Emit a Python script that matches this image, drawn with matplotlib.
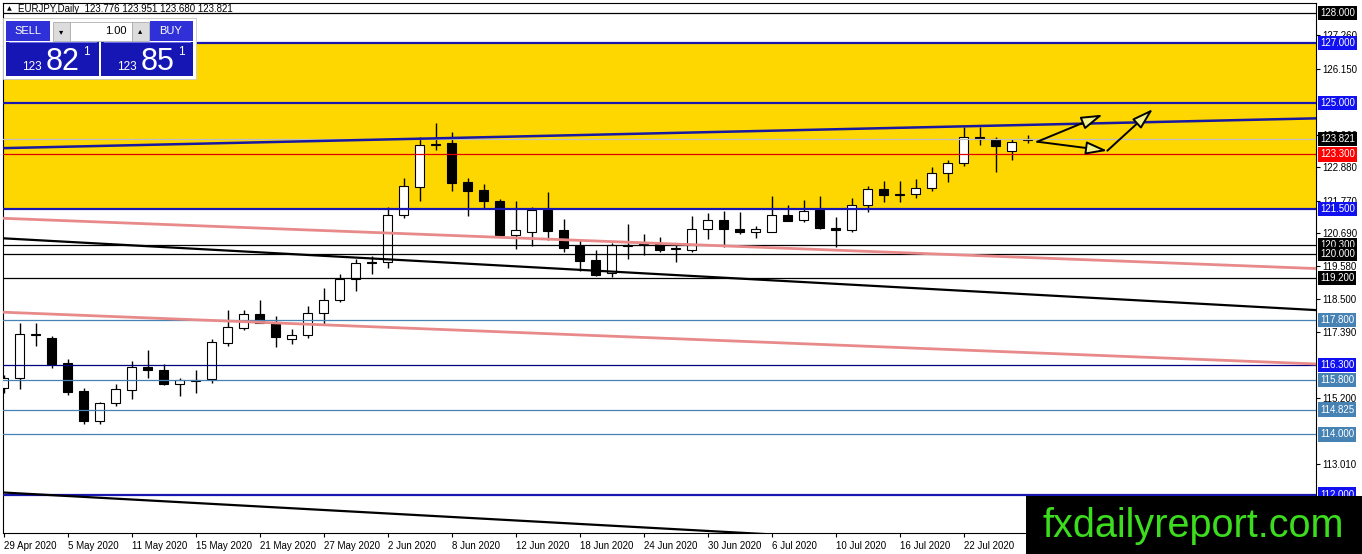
import matplotlib
matplotlib.use("Agg")
import matplotlib.pyplot as plt
from matplotlib.patches import Rectangle, FancyArrowPatch
from matplotlib.transforms import offset_copy
from matplotlib import font_manager

# ---------------- data ----------------
symbol_title = "EURJPY,Daily  123.776 123.951 123.680 123.821"

opens = [115.54, 115.89, 117.30, 117.21, 116.37, 115.45, 114.45, 115.04, 115.47, 116.24,
         116.13, 115.69, 115.79, 115.85, 117.05, 117.54, 117.99, 117.73, 117.18, 117.29,
         118.02, 118.45, 119.17, 119.73, 119.72, 121.30, 122.23, 123.62, 123.69, 122.37,
         122.13, 121.77, 120.64, 120.72, 121.46, 120.78, 120.25, 119.78, 119.35, 120.27,
         120.30, 120.33, 120.18, 120.14, 120.84, 121.13, 120.84, 120.72, 120.72, 121.30,
         121.13, 121.44, 120.86, 120.78, 121.63, 122.16, 122.00, 121.99, 122.18, 122.70,
         123.01, 123.89, 123.82, 123.40, 123.776]
highs = [115.98, 117.71, 117.71, 117.27, 116.50, 115.54, 115.09, 115.67, 116.44, 116.80,
         116.33, 115.87, 116.14, 117.18, 118.13, 118.13, 118.46, 117.93, 117.49, 118.26,
         118.85, 119.33, 119.83, 119.92, 121.54, 122.53, 123.89, 124.36, 124.03, 122.51,
         122.31, 121.83, 121.74, 121.55, 122.04, 121.15, 120.49, 120.14, 120.35, 121.00,
         120.67, 120.55, 120.30, 121.27, 121.35, 121.43, 121.38, 120.91, 121.91, 121.63,
         121.80, 121.91, 121.21, 121.87, 122.24, 122.43, 122.43, 122.48, 122.90, 123.12,
         124.22, 124.22, 123.89, 123.82, 123.951]
lows = [115.36, 115.50, 116.94, 116.20, 115.31, 114.36, 114.36, 114.96, 115.19, 115.89,
        115.64, 115.26, 115.39, 115.72, 116.94, 117.47, 117.69, 116.90, 117.01, 117.21,
        117.66, 118.40, 118.78, 119.33, 119.53, 121.19, 121.76, 123.45, 122.10, 121.24,
        121.50, 120.55, 120.17, 120.25, 120.47, 120.06, 119.44, 119.26, 119.22, 119.83,
        119.95, 120.06, 119.73, 120.06, 120.49, 120.22, 120.66, 120.52, 120.72, 121.08,
        121.05, 120.84, 120.22, 120.72, 121.39, 121.72, 121.72, 121.85, 122.10, 122.38,
        122.93, 123.62, 122.73, 123.10, 123.680]
closes = [115.89, 117.32, 117.33, 116.35, 115.42, 114.45, 115.04, 115.50, 116.25, 116.13,
          115.69, 115.80, 115.81, 117.07, 117.57, 117.99, 117.71, 117.24, 117.29, 118.02,
          118.45, 119.15, 119.70, 119.68, 121.30, 122.24, 123.62, 123.66, 122.35, 122.10,
          121.76, 120.61, 120.80, 121.44, 120.77, 120.19, 119.75, 119.31, 120.30, 120.30,
          120.28, 120.14, 120.15, 120.84, 121.13, 120.84, 120.72, 120.84, 121.30, 121.10,
          121.43, 120.86, 120.80, 121.63, 122.16, 121.96, 121.97, 122.18, 122.70, 123.03,
          123.89, 123.82, 123.58, 123.70, 123.821]

date_labels = ["29 Apr 2020", "5 May 2020", "11 May 2020", "15 May 2020", "21 May 2020",
               "27 May 2020", "2 Jun 2020", "8 Jun 2020", "12 Jun 2020", "18 Jun 2020",
               "24 Jun 2020", "30 Jun 2020", "6 Jul 2020", "10 Jul 2020", "16 Jul 2020",
               "22 Jul 2020"]
date_label_bars = [0, 4, 8, 12, 16, 20, 24, 28, 32, 36, 40, 44, 48, 52, 56, 60]

price_ticks = [127.260, 126.150, 123.960, 122.880, 121.770, 120.690, 119.580,
               118.500, 117.390, 115.200, 113.010]

level_prices = [128.000, 127.000, 125.000, 123.300, 121.500, 120.300, 120.000,
                119.200, 117.800, 116.300, 115.800, 114.825, 114.000, 112.000]
level_kinds = ["black", "blue", "blue", "red", "blue", "black", "black",
               "black", "steel", "navy", "steel", "steel", "steel", "blue"]
current_price = 123.821

zone_prices = [127.000, 121.500]

trend_bars = [-0.03, 82.03]
trend_blue = [123.51, 124.50]
trend_pink_upper = [121.18, 119.51]
trend_black_upper = [120.515, 118.13]
trend_pink_lower = [118.06, 116.34]
trend_black_lower = [112.07, 109.69]

arrow_start = (64.61, 123.724)
arrow_up_end = (68.70, 124.621)
arrow_dip_end = (68.99, 123.425)
arrow_final_end = (71.84, 124.81)

sell_price = ("123", "82", "1")
buy_price = ("123", "85", "1")
lot_size = "1.00"
watermark = "fxdailyreport.com"

# ---------------- style ----------------
W, H, DPI = 1362, 554, 100
plt.rcParams["font.family"] = ["Liberation Sans", "DejaVu Sans"]

line_styles = {
    "black": dict(color="#000000", lw=0.9),
    "blue": dict(color="#1818B0", lw=1.6),
    "red": dict(color="#E00000", lw=0.9),
    "steel": dict(color="#4682B4", lw=0.9),
    "navy": dict(color="#000080", lw=0.9),
}
label_bg = {"black": "#000000", "blue": "#1010F0", "red": "#FF0000",
            "steel": "#4682B4", "navy": "#1010F0"}

fig = plt.figure(figsize=(W / DPI, H / DPI), dpi=DPI)
ax = fig.add_axes([3 / W, 1 - 533 / H, 1313 / W, 530 / H])
ax.set_facecolor("white")
ax.set_xlim(-0.03125, 82.03125)
ymax = 128 + 10 / 30.1
ax.set_ylim(ymax - 530 / 30.1, ymax)

# yellow zone
ax.axhspan(zone_prices[1], zone_prices[0], color="#FFD700", zorder=0.5, lw=0)

# candles
for i, (o, h, l, c) in enumerate(zip(opens, highs, lows, closes)):
    ax.vlines(i, l, h, color="black", lw=1.0, zorder=2)
    bottom = min(o, c)
    height = max(abs(c - o), 0.03)
    fc = "white" if c >= o else "black"
    ax.add_patch(Rectangle((i - 0.3, bottom), 0.6, height, facecolor=fc,
                           edgecolor="black", lw=0.8, zorder=3))

# level lines
for p, k in zip(level_prices, level_kinds):
    ax.axhline(p, zorder=4, **line_styles[k])
ax.axhline(current_price, color="#C0C0C0", lw=0.9, zorder=4)

# trend lines
ax.plot(trend_bars, trend_pink_upper, color="#E88A8A", lw=2.0, zorder=4, solid_capstyle="butt")
ax.plot(trend_bars, trend_pink_lower, color="#E88A8A", lw=2.0, zorder=4, solid_capstyle="butt")
ax.plot(trend_bars, trend_black_upper, color="black", lw=1.6, zorder=4)
ax.plot(trend_bars, trend_black_lower, color="black", lw=1.6, zorder=4)
ax.plot(trend_bars, trend_blue, color="#1818A0", lw=1.8, zorder=4)

# arrows
for a, b in [(arrow_start, arrow_up_end), (arrow_start, arrow_dip_end),
             (arrow_dip_end, arrow_final_end)]:
    ax.add_patch(FancyArrowPatch(a, b, arrowstyle="-|>,head_length=13,head_width=4",
                                 mutation_scale=1, lw=1.4, edgecolor="black",
                                 facecolor="#F2F28A", zorder=6, shrinkA=0, shrinkB=0))

# axes frame
for s in ax.spines.values():
    s.set_color("black")
    s.set_linewidth(0.8)

# x ticks
ax.set_xticks(date_label_bars)
ax.set_xticklabels(date_labels, fontsize=7)
for t in ax.get_xticklabels():
    t.set_horizontalalignment("left")
ax.tick_params(axis="x", direction="out", length=3, width=0.8, pad=2.5, colors="black")

# y ticks on right
ax.yaxis.tick_right()
ax.set_yticks(price_ticks)
ax.set_yticklabels(["%.3f" % v for v in price_ticks], fontsize=7)
ax.tick_params(axis="y", direction="out", length=3, width=0.8, pad=1.5, colors="black")

# level labels on the right
lab_tr = offset_copy(ax.get_yaxis_transform(), fig=fig, x=4, y=0, units="dots")
for p, k in zip(level_prices, level_kinds):
    ax.text(1.0, p, "%.3f" % p, transform=lab_tr, ha="left", va="center", fontsize=7,
            color="white", zorder=20, clip_on=False,
            bbox=dict(boxstyle="square,pad=0.22", fc=label_bg[k], ec="none"))
ax.text(1.0, current_price, "%.3f" % current_price, transform=lab_tr, ha="left",
        va="center", fontsize=7, color="white", zorder=20, clip_on=False,
        bbox=dict(boxstyle="square,pad=0.22", fc="#000000", ec="none"))

# ---------------- overlay (pixel coordinates) ----------------
ov = fig.add_axes([0, 0, 1, 1], zorder=10)
ov.set_xlim(0, W)
ov.set_ylim(H, 0)
ov.axis("off")
ov.patch.set_alpha(0)

ov.text(7, 9, "\u25B2", fontsize=4.5, ha="left", va="center", family="DejaVu Sans")
ov.text(18, 8.5, symbol_title, fontsize=7, ha="left", va="center")

# trading widget
ov.add_patch(Rectangle((3, 18), 193, 61, fc="white", ec="#C8C8C8", lw=0.6))
btn_blue = "#3030D8"
panel_blue = "#1616B4"
ov.add_patch(Rectangle((6, 21), 44, 20, fc=btn_blue, ec="none"))
ov.add_patch(Rectangle((150, 21), 43, 20, fc=btn_blue, ec="none"))
ov.add_patch(Rectangle((53, 22), 17, 19, fc="#DCDCDC", ec="#A0A0A0", lw=0.5))
ov.add_patch(Rectangle((132, 22), 17, 19, fc="#DCDCDC", ec="#A0A0A0", lw=0.5))
ov.add_patch(Rectangle((70, 22), 62, 19, fc="white", ec="#A0A0A0", lw=0.5))
ov.text(28, 31, "SELL", fontsize=8, color="white", ha="center", va="center")
ov.text(171, 31, "BUY", fontsize=8, color="white", ha="center", va="center")
ov.text(61.5, 31.5, "\u25BE", fontsize=6, ha="center", va="center", family="DejaVu Sans")
ov.text(140.5, 31, "\u25B4", fontsize=6, ha="center", va="center", family="DejaVu Sans")
ov.text(127, 31, lot_size, fontsize=8, ha="right", va="center")
ov.add_patch(Rectangle((6, 42), 93, 34, fc=panel_blue, ec="none"))
ov.add_patch(Rectangle((101, 42), 92, 34, fc=panel_blue, ec="none"))
ov.plot([9, 96], [41.5, 41.5], color="#8080F0", lw=0.6)
ov.plot([104, 190], [41.5, 41.5], color="#8080F0", lw=0.6)
for x0, (small, big, sup) in [(22, sell_price), (117, buy_price)]:
    ov.text(x0, 70, small, fontsize=8.5, color="white", ha="left", va="baseline")
    ov.text(x0 + 24, 69.5, big, fontsize=22, color="white", ha="left", va="baseline")
    ov.text(x0 + 61, 55, sup, fontsize=8.5, color="white", ha="left", va="baseline")

# watermark
ov.add_patch(Rectangle((1026, 496), W - 1026, H - 496, fc="black", ec="none"))


def has_font(name):
    try:
        font_manager.findfont(font_manager.FontProperties(family=name),
                              fallback_to_default=False)
        return True
    except Exception:
        return False


if has_font("Liberation Sans Narrow"):
    wm_font, wm_size = "Liberation Sans Narrow", 34
else:
    wm_font, wm_size = "Liberation Sans", 28.5
ov.text(1193, 537, watermark, fontsize=wm_size, family=wm_font, color="#3CDC1E",
        ha="center", va="baseline")

fig.savefig("out.png", dpi=DPI, facecolor="white")
